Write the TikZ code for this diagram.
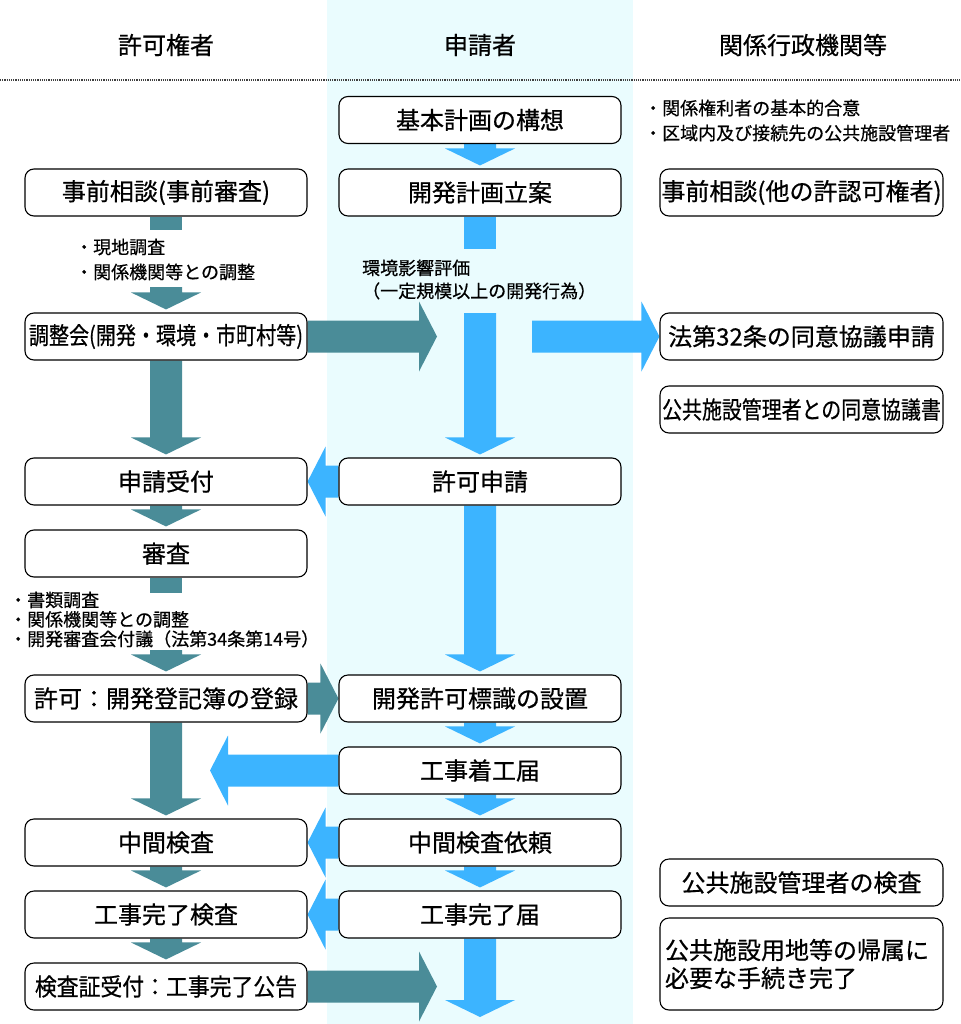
\documentclass[tikz,border=0pt]{standalone}
\usepackage{fontspec}
\usepackage{graphicx}
\setmainfont{Noto Sans CJK JP}[FakeBold=0.6]
\usetikzlibrary{calc}
\definecolor{teal2}{HTML}{4A8C98}
\definecolor{sky}{HTML}{3CB4FF}
\definecolor{colbg}{HTML}{EAFCFE}
\pgfdeclarelayer{bg}
\pgfdeclarelayer{back}
\pgfsetlayers{back,bg,main}
\newcommand\ArrDown[3]{\fill[#1] let \p1=(#2), \p2=(#3) in
  (\x1-16pt,\y1) -- (\x1+16pt,\y1) -- (\x1+16pt,\y2+20pt) -- (\x1+35pt,\y2+20pt)
  -- (\x1,\y2+3pt) -- (\x1-35pt,\y2+20pt) -- (\x1-16pt,\y2+20pt) -- cycle;}
\newcommand\ArrRight[3]{\fill[#1] let \p1=(#2), \p2=(#3) in
  (\x1,\y1+16pt) -- (\x2-18pt,\y1+16pt) -- (\x2-18pt,\y1+35pt) -- (\x2,\y1)
  -- (\x2-18pt,\y1-35pt) -- (\x2-18pt,\y1-16pt) -- (\x1,\y1-16pt) -- cycle;}
\newcommand\ArrLeft[3]{\fill[#1] let \p1=(#2), \p2=(#3) in
  (\x1,\y1+16pt) -- (\x2+18pt,\y1+16pt) -- (\x2+18pt,\y1+35pt) -- (\x2,\y1)
  -- (\x2+18pt,\y1-35pt) -- (\x2+18pt,\y1-16pt) -- (\x1,\y1-16pt) -- cycle;}
\newcommand\Stub[3]{\fill[#1] let \p1=(#2) in (\x1-16pt,\y1) rectangle (\x1+16pt,\y1-#3pt);}
\tikzset{
  box/.style={draw=black, line width=1.1pt, rounded corners=9pt, fill=white,
    minimum width=282pt, minimum height=47pt, inner sep=0pt,
    font=\fontsize{24}{28}\selectfont, text=black},
  hdr/.style={font=\fontsize{24}{28}\selectfont, inner sep=0pt, text=black},
  note/.style={font=\fontsize{18}{25}\selectfont, inner sep=0pt, anchor=west, align=left, text=black},
}
\begin{document}
\begin{tikzpicture}[x=1pt,y=-1pt]
\useasboundingbox (0,0) rectangle (960,1024);
% column background and header
\begin{pgfonlayer}{back}
\fill[colbg] (327,0) rectangle (633,1024);
\end{pgfonlayer}
\node[hdr] (h1) at (166,45) {許可権者};
\node[hdr] (h2) at (480,45) {申請者};
\node[hdr] (h3) at (803,45) {関係行政機関等};
\draw[black!75, line width=1.1pt, dash pattern=on 1.2pt off 1pt] (0,80) -- (960,80);

% middle column
\node[box] (kihon) at (480,120) {基本計画の構想};
\node[box] (kaihatsu) at (480,192.5) {開発計画立案};
\node[box] (kyoka) at (480,481.5) {許可申請};
\node[box] (hyoshiki) at (480,698.5) {開発許可標識の設置};
\node[box] (chakko) at (480,770.5) {工事着工届};
\node[box] (irai) at (480,842.5) {中間検査依頼};
\node[box] (kanryo) at (480,914.5) {工事完了届};

% left column
\node[box] (jizen) at (166,192.5) {事前相談(事前審査)};
\node[box] (chosei) at (166,336.5) {\scalebox{0.835}[1]{調整会(開発・環境・市町村等)}};
\node[box] (uketsuke) at (166,481.5) {申請受付};
\node[box] (shinsa) at (166,553.5) {審査};
\node[box] (toroku) at (166,698.5) {許可：開発登記簿の登録};
\node[box] (chukan) at (166,842.5) {中間検査};
\node[box] (kanryokensa) at (166,914.5) {工事完了検査};
\node[box] (koukoku) at (166,986.5) {\scalebox{0.91}[1]{検査証受付：工事完了公告}};

% right column
\node[box, minimum width=283pt] (jizen2) at (801.5,192.5) {事前相談(他の許認可権者)};
\node[box, minimum width=283pt] (hou32) at (801.5,336.5) {法第32条の同意協議申請};
\node[box, minimum width=283pt] (kyogi) at (801.5,409.5) {\scalebox{0.83}[1]{公共施設管理者との同意協議書}};
\node[box, minimum width=283pt] (kensa3) at (801.5,882.5) {公共施設管理者の検査};
\node[box, minimum width=283pt, minimum height=92pt, align=left, text width=273pt] (kizoku) at (801.5,964) {公共施設用地等の帰属に\\必要な手続き完了};

% notes
\node[note] (n1) at (644,120.5) {・関係権利者の基本的合意\\・区域内及び接続先の公共施設管理者};
\node[note] (n2) at (75,259.5) {・現地調査\\・関係機関等との調整};
\node[note, font=\fontsize{18}{23}\selectfont] (n3) at (362,279.5) {環境影響評価\\（一定規模以上の開発行為）};
\node[note, font=\fontsize{18}{19.5}\selectfont] (n4) at (9,619.5) {・書類調査\\・関係機関等との調整\\・開発審査会付議（法第34条第14号）};

% free ends
\coordinate (cA) at (437,336.5);
\coordinate (cB) at (532,336.5);
\coordinate (c1) at (480,313);
\coordinate (c2) at (166,287);
\coordinate (c3) at (166,650);
\coordinate (c4) at (210,770.5);
\coordinate (c5) at (437,986.5);
\coordinate (c6) at (480,1020);

\begin{pgfonlayer}{bg}
% blue arrows
\ArrDown{sky}{kihon.south}{kaihatsu.north}
\Stub{sky}{kaihatsu.south}{32}
\ArrDown{sky}{c1}{kyoka.north}
\ArrRight{sky}{cB}{hou32.west}
\ArrLeft{sky}{kyoka.west}{uketsuke.east}
\ArrDown{sky}{kyoka.south}{hyoshiki.north}
\ArrDown{sky}{hyoshiki.south}{chakko.north}
\ArrLeft{sky}{chakko.west}{c4}
\ArrDown{sky}{chakko.south}{irai.north}
\ArrLeft{sky}{irai.west}{chukan.east}
\ArrDown{sky}{irai.south}{kanryo.north}
\ArrLeft{sky}{kanryo.west}{kanryokensa.east}
\ArrDown{sky}{kanryo.south}{c6}
% teal arrows
\Stub{teal2}{jizen.south}{13}
\ArrDown{teal2}{c2}{chosei.north}
\ArrRight{teal2}{chosei.east}{cA}
\ArrDown{teal2}{chosei.south}{uketsuke.north}
\ArrDown{teal2}{uketsuke.south}{shinsa.north}
\Stub{teal2}{shinsa.south}{15}
\ArrDown{teal2}{c3}{toroku.north}
\ArrRight{teal2}{toroku.east}{hyoshiki.west}
\ArrDown{teal2}{toroku.south}{chukan.north}
\ArrDown{teal2}{chukan.south}{kanryokensa.north}
\ArrDown{teal2}{kanryokensa.south}{koukoku.north}
\ArrRight{teal2}{koukoku.east}{c5}
\end{pgfonlayer}
\end{tikzpicture}
\end{document}
